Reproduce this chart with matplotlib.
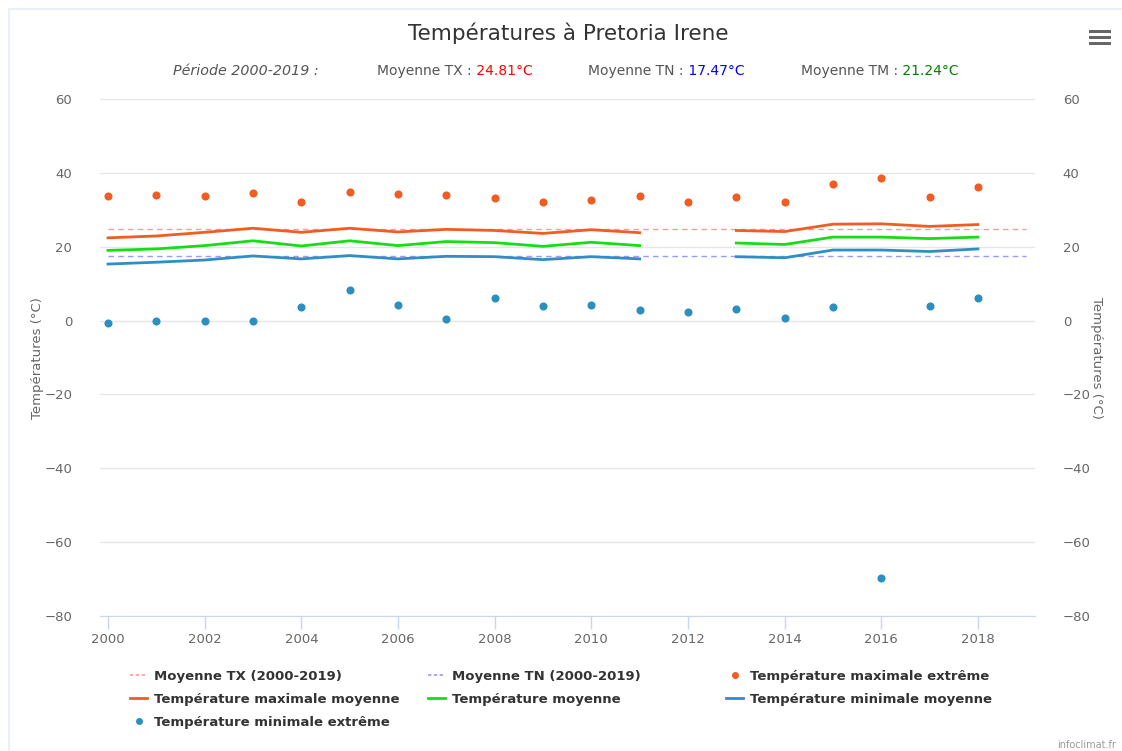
import numpy as np
import matplotlib
matplotlib.use('Agg')
import matplotlib.pyplot as plt
from matplotlib.lines import Line2D
from matplotlib.patches import Rectangle

years = list(range(2000, 2019))
tx_ext = [33.8, 34.0, 33.6, 34.6, 32.2, 34.9, 34.2, 33.9, 33.1, 32.2, 32.6,
          33.8, 32.1, 33.5, 32.1, 36.9, 38.5, 33.5, 36.1]
tx_moy = [22.4, 22.9, 23.9, 25.0, 23.9, 25.0, 24.0, 24.7, 24.4, 23.6, 24.6,
          23.8, np.nan, 24.4, 24.1, 26.1, 26.2, 25.5, 26.0]
tm_moy = [19.0, 19.4, 20.3, 21.6, 20.2, 21.6, 20.3, 21.4, 21.1, 20.1, 21.2,
          20.3, np.nan, 21.0, 20.6, 22.6, 22.6, 22.2, 22.6]
tn_moy = [15.3, 15.8, 16.4, 17.5, 16.7, 17.6, 16.7, 17.4, 17.3, 16.5, 17.3,
          16.7, np.nan, 17.3, 17.0, 19.1, 19.1, 18.7, 19.4]
tn_ext = [-0.7, 0.0, 0.0, 0.0, 3.6, 8.3, 4.2, 0.5, 6.2, 4.0, 4.3,
          2.8, 2.2, 3.2, 0.7, 3.6, -69.6, 4.0, 6.1]
periode = (2000, 2019)
moy_tx = 24.81
moy_tn = 17.47
moy_tm = 21.24

W, H = 1122, 751
fig = plt.figure(figsize=(W / 100, H / 100), dpi=100)
fig.patch.set_facecolor('white')


def fx(px):
    return px / W


def fy(py):
    return 1 - py / H


# faint container border
fig.patches.append(Rectangle((fx(9), fy(760)), fx(1200), fy(9) - fy(760),
                             transform=fig.transFigure, fill=False,
                             edgecolor='#eaf0f8', lw=1.5))

ax = fig.add_axes([fx(100), fy(616), fx(1035) - fx(100), fy(99) - fy(616)])
x0 = 2000 - 8 / 48.33
x1 = 2000 + (1035 - 108) / 48.33
ax.set_xlim(x0, x1)
ax.set_ylim(-80, 60)
ax.set_yticks(range(-80, 61, 20))
ax.set_xticks(range(2000, 2019, 2))
ax.grid(axis='y', color='#e6e6e6', lw=1)
ax.set_axisbelow(True)
for s in ['top', 'left', 'right']:
    ax.spines[s].set_visible(False)
ax.spines['bottom'].set_color('#ccd6eb')
ax.tick_params(axis='x', colors='#ccd6eb', length=9, width=1, labelcolor='#666666',
               labelsize=9.5, pad=3)
ax.tick_params(axis='y', length=0, labelcolor='#666666', labelsize=9.5, pad=20)

ax2 = ax.twinx()
ax2.set_ylim(-80, 60)
ax2.set_yticks(range(-80, 61, 20))
for s in ['top', 'left', 'right', 'bottom']:
    ax2.spines[s].set_visible(False)
ax2.tick_params(axis='y', length=0, labelcolor='#666666', labelsize=9.5, pad=20)

fig.text(fx(37), fy(358), 'Températures (°C)', color='#666666', fontsize=9.5,
         rotation=90, ha='center', va='center')
fig.text(fx(1097), fy(358), 'Températures (°C)', color='#666666', fontsize=9.5,
         rotation=270, ha='center', va='center')

c_tx_mean = '#ff9a9a'
c_tn_mean = '#9a9aff'
c_orange = '#f15c22'
c_green = '#17dd17'
c_blue = '#2f8fc2'
c_dot_blue = '#2b90c0'

ax.plot(periode, [moy_tx, moy_tx], color=c_tx_mean, lw=1, ls=(0, (4, 3)))
ax.plot(periode, [moy_tn, moy_tn], color=c_tn_mean, lw=1, ls=(0, (4, 3)))
ax.plot(years, tx_moy, color=c_orange, lw=2)
ax.plot(years, tm_moy, color=c_green, lw=2)
ax.plot(years, tn_moy, color=c_blue, lw=2)
ax.scatter(years, tx_ext, s=34, color=c_orange, zorder=5, lw=0)
ax.scatter(years, tn_ext, s=34, color=c_dot_blue, zorder=5, lw=0)

# title and subtitle
fig.text(fx(568), fy(33), 'Températures à Pretoria Irene', ha='center',
         va='center', fontsize=15.5, color='#333333')
sub_y = fy(71)
fig.text(fx(173), sub_y, 'Période 2000-2019 :', style='italic', fontsize=10.3,
         color='#555555', va='center')
for xpx, lab, val, col in [(377, 'Moyenne TX :', moy_tx, '#ff0000'),
                           (588, 'Moyenne TN :', moy_tn, '#0000ff'),
                           (801, 'Moyenne TM :', moy_tm, '#008000')]:
    t = fig.text(fx(xpx), sub_y, lab, fontsize=10, color='#555555', va='center')
    ax.annotate(f' {val:.2f}°C', xy=(1, 0.5), xycoords=t, fontsize=10,
                color=col, va='center', ha='left', annotation_clip=False)

# menu icon
for yy in (31.5, 37.5, 43.5):
    fig.patches.append(Rectangle((fx(1089), fy(yy + 1.4)), fx(22), fy(yy - 1.4) - fy(yy + 1.4),
                                 transform=fig.transFigure, color='#666666', lw=0))

fig.text(fx(1116), fy(745), 'infoclimat.fr', ha='right', va='center',
         fontsize=7, color='#999999')

# legend, three fixed columns like highcharts
h_tx = Line2D([], [], color=c_tx_mean, lw=1.2, ls=(0, (2, 1.5)))
h_tn = Line2D([], [], color=c_tn_mean, lw=1.2, ls=(0, (2, 1.5)))
h_txe = Line2D([], [], color=c_orange, marker='o', ls='none', markersize=4)
h_txm = Line2D([], [], color=c_orange, lw=2)
h_tm = Line2D([], [], color=c_green, lw=2)
h_tnm = Line2D([], [], color=c_blue, lw=2)
h_tne = Line2D([], [], color=c_dot_blue, marker='o', ls='none', markersize=4)

cols = [
    (130, [h_tx, h_txm, h_tne], ['Moyenne TX (2000-2019)', 'Température maximale moyenne',
                                 'Température minimale extrême']),
    (428, [h_tn, h_tm], ['Moyenne TN (2000-2019)', 'Température moyenne']),
    (726, [h_txe, h_tnm], ['Température maximale extrême', 'Température minimale moyenne']),
]
for xpx, hs, labs in cols:
    leg = fig.legend(hs, labs, loc='upper left', bbox_to_anchor=(fx(xpx), fy(670)),
                     frameon=False, handlelength=1.3, handletextpad=0.5,
                     labelspacing=0.74, borderaxespad=0, borderpad=0,
                     prop={'weight': 'bold', 'size': 9.5})
    for t in leg.get_texts():
        t.set_color('#333333')

fig.savefig('out.png', dpi=100)
